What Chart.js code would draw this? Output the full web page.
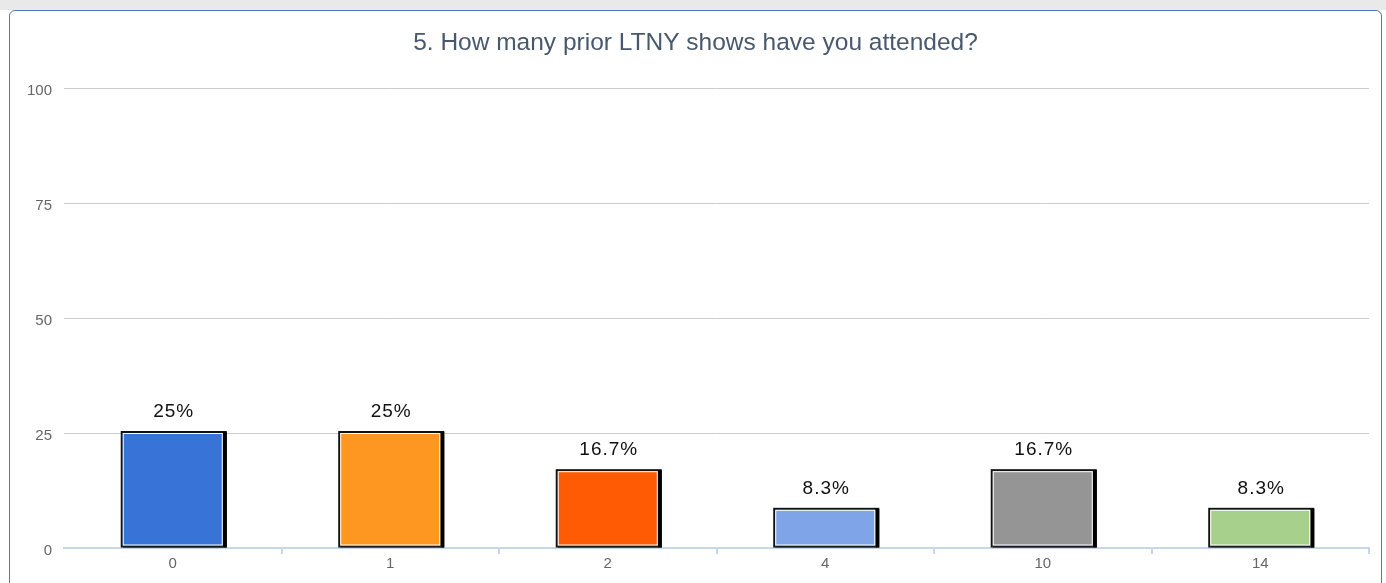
<!DOCTYPE html>
<html>
<head>
<meta charset="utf-8">
<script src="https://cdn.jsdelivr.net/npm/chart.js@4"></script>
<style>
  html, body { margin: 0; padding: 0; background: #fff; width: 1386px; height: 583px; overflow: hidden; }
  #strip { position: absolute; left: 0; top: 0; width: 1386px; height: 10px; background: #e9e9e9; }
  #card { position: absolute; left: 9px; top: 10px; width: 1373px; height: 640px; box-sizing: border-box;
          border: 1px solid #4a7ab8; border-radius: 6px; background: #fff; }
  #wrap { position: absolute; left: 10px; top: 11px; width: 1371px; height: 572px; }
</style>
</head>
<body>
<div id="strip"></div>
<div id="card"></div>
<div id="wrap"><canvas id="surveyChart"></canvas></div>
<script>
// question title + answers (share of respondents, %)
const chartTitle = "5. How many prior LTNY shows have you attended?";
const answers = ["0", "1", "2", "4", "10", "14"];
const percents = [25, 25, 16.7, 8.3, 16.7, 8.3];
const barColors = ["#3874d8", "#fe9721", "#fe5b04", "#7fa5e8", "#959595", "#a8d08d"];
const yTicks = [0, 25, 50, 75, 100];

Chart.defaults.font.family = 'Arial, "Liberation Sans", sans-serif';

//black frame + shadow behind each bar, white inset line and % label on top
const barDeco = {
  id: "barDeco",
  beforeDatasetsDraw(chart) {
    const ctx = chart.ctx;
    chart.getDatasetMeta(0).data.forEach(function(bar) {
      const p = bar.getProps(["x", "y", "base", "width"], true);
      const left = p.x - p.width / 2;
      ctx.save();
      ctx.fillStyle = "#111";
      ctx.fillRect(left - 2, p.y - 2, p.width + 6, p.base - p.y + 2);
      ctx.fillStyle = "#000";
      ctx.fillRect(left + p.width, p.y - 1, 4, p.base - p.y + 1);
      ctx.restore();
    });
  },
  afterDatasetsDraw(chart) {
    const ctx = chart.ctx;
    chart.getDatasetMeta(0).data.forEach(function(bar, i) {
      const p = bar.getProps(["x", "y", "base", "width"], true);
      const left = p.x - p.width / 2;
      ctx.save();
      ctx.fillStyle = "#1a1a1a";
      ctx.fillRect(left, p.base - 2, p.width, 2);
      ctx.strokeStyle = "#ffffff";
      ctx.lineWidth = 1;
      ctx.strokeRect(left + 0.5, p.y + 0.5, p.width - 1, p.base - p.y - 3);
      ctx.fillStyle = "#111";
      ctx.font = '19px Arial, "Liberation Sans", sans-serif';
      ctx.letterSpacing = "1px";
      ctx.textAlign = "center";
      ctx.textBaseline = "alphabetic";
      ctx.fillText(percents[i] + "%", p.x + 1, p.y - 16);
      ctx.restore();
    });
  }
};

new Chart("surveyChart", {
  type: "bar",
  data: {
    labels: answers,
    datasets: [{
      data: percents,
      backgroundColor: barColors,
      borderWidth: 0,
      barPercentage: 0.46,
      categoryPercentage: 1
    }]
  },
  options: {
    responsive: true,
    maintainAspectRatio: false,
    animation: false,
    layout: {padding: {left: 12, right: 12, top: 0, bottom: 0}},
    plugins: {
      legend: {display: false},
      tooltip: {enabled: false},
      title: {
        display: true,
        text: chartTitle,
        color: "#48596e",
        font: {size: 24.5, weight: "normal"},
        padding: {top: 18, bottom: 29.6}
      }
    },
    scales: {
      x: {
        grid: {
          drawOnChartArea: false,
          drawTicks: true,
          tickLength: 6,
          lineWidth: 2,
          color: function(c) { return c.index === 0 ? "rgba(0,0,0,0)" : "#c8d6ea"; }
        },
        border: {display: true, color: "#c8d6ea", width: 2},
        ticks: {color: "#666", font: {size: 15}, padding: 1},
        afterFit: function(scale) { scale.height = 35; }
      },
      y: {
        min: 0,
        max: 100,
        afterBuildTicks: function(scale) { scale.ticks = yTicks.map(function(v) { return {value: v}; }); },
        grid: {
          drawTicks: false,
          color: function(c) { return c.tick && c.tick.value === 0 ? "rgba(0,0,0,0)" : "#cccccc"; }
        },
        border: {display: false},
        ticks: {color: "#666", font: {size: 15}, padding: 12, labelOffset: 3},
        afterFit: function(scale) { scale.width = 42; }
      }
    }
  },
  plugins: [barDeco]
});
</script>
</body>
</html>
